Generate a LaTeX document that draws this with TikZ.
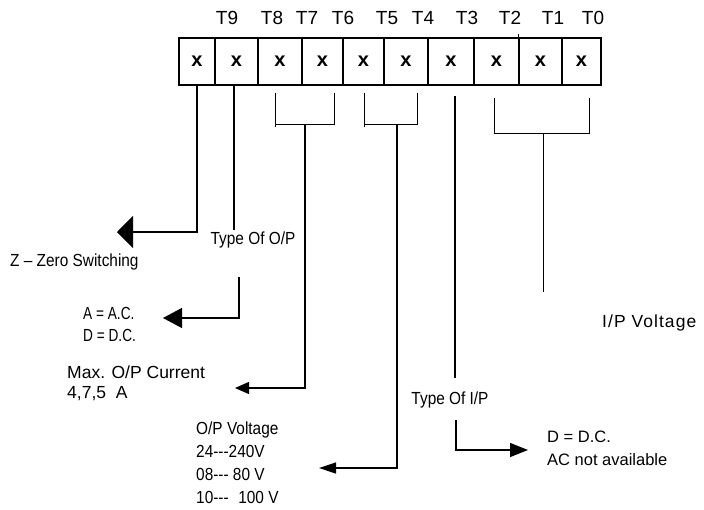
\documentclass[tikz,border=0pt]{standalone}
\usepackage{fontspec}
\setmainfont{Liberation Sans}
\newfontfamily\narrowfont[FakeStretch=0.88]{Liberation Sans}
\newfontfamily\tightfont[FakeStretch=0.78]{Liberation Sans}
\usetikzlibrary{arrows.meta, positioning, calc}
\tikzset{
  cell/.style  = {draw, line width=1.6pt, minimum height=47pt, inner sep=0pt,
                  font=\fontsize{20}{20}\selectfont\bfseries},
  tlbl/.style  = {font=\fontsize{19}{19}\selectfont, inner sep=0pt},
  txt/.style   = {font=\fontsize{17.5}{22}\selectfont\narrowfont, inner sep=0pt,
                  align=left},
  conn/.style  = {line width=1.3pt},
  brk/.style   = {line width=0.9pt},
  bigarr/.style  = {conn, -{Triangle[length=16pt, width=32pt]}},
  medarr/.style  = {conn, -{Triangle[length=19pt, width=20pt]}},
  smallarr/.style= {conn, -{Triangle[length=14pt, width=12pt]}},
  volarr/.style  = {conn, -{Triangle[length=17pt, width=11pt]}},
  iparr/.style   = {conn, -{Triangle[length=18pt, width=14pt]}},
}

\begin{document}
\begin{tikzpicture}[x=1pt, y=-1pt]
  \useasboundingbox (0,0) rectangle (704,509);

  % code positions
  \foreach \n/\l/\r in {1/179/215, 2/215/258, 3/258/302, 4/302/343, 5/343/384,
                        6/384/428, 7/428/474, 8/474/519, 9/519/562, 10/562/601}
    \node[cell, minimum width={\r-\l}] (pos\n) at ({(\l+\r)/2},61.5) {x};
  \draw[line width=1pt] (pos9.north west) -- ++(0,-3);

  \foreach \t/\x in {9/227, 8/272, 7/307, 6/343, 5/387, 4/423, 3/467, 2/510,
                     1/553, 0/593}
    \node[tlbl] (t\t) at (\x,18) {T\t};

  % brackets
  \draw[brk] (275,93) -- (275,127) (275,124) -- (334,124) -- (334,93);
  \draw[brk] (364,93) -- (364,127) (364,124) -- (417,124) -- (417,93);
  \draw[brk] (494,98) -- (494,133) -- (589,133) -- (589,98);

  % texts
  \node[txt, anchor=west] (zero) at (10,262) {Z – Zero Switching};
  \node[txt] (typeop) at (253,240) {Type Of O/P};
  \node[txt, anchor=west, font=\fontsize{17.5}{22}\selectfont\tightfont] (opval)
    at (83,324) {A = A.C.\\D = D.C.};
  \node[txt, anchor=west, font=\fontsize{17.5}{20}\selectfont] (curr) at (67,383)
    {Max. O/P Current\\4,7,5\ \ A};
  \node[txt, anchor=west, font=\fontsize{17.5}{23}\selectfont\narrowfont] (volt)
    at (196,462.5)
    {O/P Voltage\\24-{}-{}-240V\\08-{}-{}- 80 V\\10-{}-{}-\hspace{0.55em}100 V};
  \node[txt] (typeip) at (450,400) {Type Of I/P};
  \node[txt, anchor=west, font=\fontsize{16.5}{23}\selectfont] (ipval)
    at (547,448.5) {D = D.C.\\AC not available};
  \node[txt, anchor=west, font=\fontsize{17.5}{17.5}\selectfont] (ipvolt)
    at (602,323) {\addfontfeature{LetterSpace=6}I/P Voltage};

  % connector corners
  \coordinate (zsBend) at (197,232);
  \coordinate (zsTip)  at (117,232);
  \coordinate (opTop)  at (234,230);
  \coordinate (opStart) at (239,277);
  \coordinate (opBend) at (239,318);
  \coordinate (opTip)  at (163,318);
  \coordinate (curStem) at (305,124);
  \coordinate (curBend) at (305,388);
  \coordinate (curTip)  at (235,388);
  \coordinate (volStem) at (397,124);
  \coordinate (volBend) at (397,468);
  \coordinate (volTip)  at (319,468);
  \coordinate (ipTop)   at (455,378);
  \coordinate (ipStart) at (456,420);
  \coordinate (ipBend)  at (456,450);
  \coordinate (ipTip)   at (528,450);
  \coordinate (vinStem) at (543,133);
  \coordinate (vinEnd)  at (543,292);

  \draw[bigarr] (pos1.south -| zsBend) -- (zsBend) -- (zsTip);
  \draw[conn] (pos2.south -| opTop) -- (opTop);
  \draw[medarr] (opStart) -- (opBend) -- (opTip);
  \draw[smallarr] (curStem) -- (curBend) -- (curTip);
  \draw[volarr] (volStem) -- (volBend) -- (volTip);
  \draw[conn] ($(pos7.south -| ipTop)+(0,10)$) -- (ipTop);
  \draw[iparr] (ipStart) -- (ipBend) -- (ipTip);
  \draw[brk] (vinStem) -- (vinEnd);
\end{tikzpicture}
\end{document}
